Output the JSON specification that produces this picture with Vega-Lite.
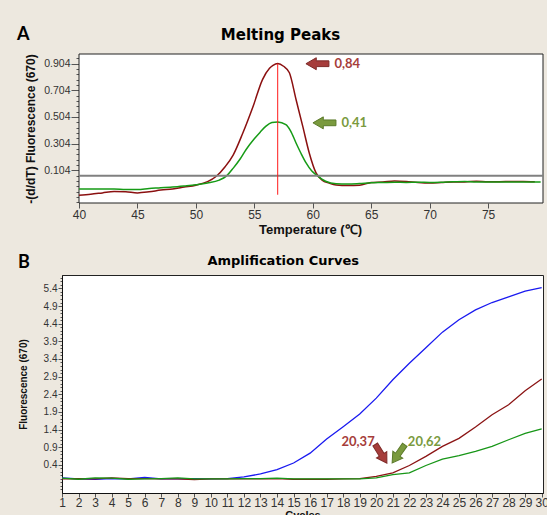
{
  "$schema": "https://vega.github.io/schema/vega-lite/v6.json",
  "background": "#EDE8DF",
  "padding": {"left": 17, "top": 26, "right": 0, "bottom": 0},
  "spacing": 17,
  "resolve": {"scale": {"color": "independent", "fill": "independent", "stroke": "independent"}},
  "config": {
    "view": {"fill": "white", "stroke": "#222", "strokeWidth": 1},
    "axis": {
      "labelFont": "Liberation Sans", "labelColor": "#333", "titleFont": "Liberation Sans",
      "titleFontWeight": "bold", "titleColor": "#111", "grid": false, "domainColor": "#111",
      "tickColor": "#555", "labelOverlap": false, "labelFlush": false
    }
  },
  "datasets": {
    "melt": [
      {"sample":"S1","temp":40,"value":-0.084},{"sample":"S1","temp":41,"value":-0.076},{"sample":"S1","temp":42,"value":-0.066},
      {"sample":"S1","temp":43,"value":-0.056},{"sample":"S1","temp":44,"value":-0.058},{"sample":"S1","temp":45,"value":-0.066},
      {"sample":"S1","temp":46,"value":-0.058},{"sample":"S1","temp":47,"value":-0.045},{"sample":"S1","temp":48,"value":-0.036},
      {"sample":"S1","temp":49,"value":-0.022},{"sample":"S1","temp":50,"value":-0.008},{"sample":"S1","temp":51,"value":0.018},
      {"sample":"S1","temp":51.75,"value":0.059},{"sample":"S1","temp":52.5,"value":0.13},{"sample":"S1","temp":53.2,"value":0.22},
      {"sample":"S1","temp":54,"value":0.38},{"sample":"S1","temp":54.9,"value":0.585},{"sample":"S1","temp":55.7,"value":0.785},
      {"sample":"S1","temp":56.3,"value":0.87},{"sample":"S1","temp":56.6,"value":0.892},{"sample":"S1","temp":57,"value":0.905},
      {"sample":"S1","temp":57.5,"value":0.885},{"sample":"S1","temp":58,"value":0.836},{"sample":"S1","temp":58.57,"value":0.635},
      {"sample":"S1","temp":59.14,"value":0.435},{"sample":"S1","temp":59.7,"value":0.234},{"sample":"S1","temp":60.28,"value":0.084},
      {"sample":"S1","temp":60.8,"value":0.03},{"sample":"S1","temp":61.4,"value":0.008},{"sample":"S1","temp":62,"value":-0.006},
      {"sample":"S1","temp":63,"value":-0.01},{"sample":"S1","temp":64,"value":-0.008},{"sample":"S1","temp":65,"value":0.012},
      {"sample":"S1","temp":66,"value":0.016},{"sample":"S1","temp":67,"value":0.024},{"sample":"S1","temp":68,"value":0.02},
      {"sample":"S1","temp":69,"value":0.012},{"sample":"S1","temp":70,"value":0.008},{"sample":"S1","temp":71,"value":0.012},
      {"sample":"S1","temp":72,"value":0.016},{"sample":"S1","temp":73,"value":0.016},{"sample":"S1","temp":74,"value":0.022},
      {"sample":"S1","temp":75,"value":0.018},{"sample":"S1","temp":76,"value":0.018},{"sample":"S1","temp":77,"value":0.02},
      {"sample":"S1","temp":78,"value":0.02},{"sample":"S1","temp":79,"value":0.018},
      {"sample":"S2","temp":40,"value":-0.037},{"sample":"S2","temp":41,"value":-0.037},{"sample":"S2","temp":42,"value":-0.037},
      {"sample":"S2","temp":43,"value":-0.037},{"sample":"S2","temp":44,"value":-0.04},{"sample":"S2","temp":45,"value":-0.04},
      {"sample":"S2","temp":46,"value":-0.033},{"sample":"S2","temp":47,"value":-0.028},{"sample":"S2","temp":48,"value":-0.022},
      {"sample":"S2","temp":49,"value":-0.014},{"sample":"S2","temp":50,"value":-0.005},{"sample":"S2","temp":51,"value":0.008},
      {"sample":"S2","temp":52,"value":0.03},{"sample":"S2","temp":52.6,"value":0.06},{"sample":"S2","temp":53.2,"value":0.12},
      {"sample":"S2","temp":53.8,"value":0.19},{"sample":"S2","temp":54.3,"value":0.26},{"sample":"S2","temp":55,"value":0.34},
      {"sample":"S2","temp":55.5,"value":0.39},{"sample":"S2","temp":56,"value":0.435},{"sample":"S2","temp":56.5,"value":0.462},
      {"sample":"S2","temp":57,"value":0.467},{"sample":"S2","temp":57.7,"value":0.447},{"sample":"S2","temp":58.1,"value":0.4},
      {"sample":"S2","temp":58.57,"value":0.309},{"sample":"S2","temp":59,"value":0.23},{"sample":"S2","temp":59.43,"value":0.159},
      {"sample":"S2","temp":59.9,"value":0.1},{"sample":"S2","temp":60.28,"value":0.071},{"sample":"S2","temp":61.1,"value":0.021},
      {"sample":"S2","temp":62,"value":0.002},{"sample":"S2","temp":63,"value":0.0},{"sample":"S2","temp":64,"value":0.004},
      {"sample":"S2","temp":65,"value":0.01},{"sample":"S2","temp":66,"value":0.012},{"sample":"S2","temp":67,"value":0.014},
      {"sample":"S2","temp":68,"value":0.012},{"sample":"S2","temp":69,"value":0.014},{"sample":"S2","temp":70,"value":0.012},
      {"sample":"S2","temp":71,"value":0.014},{"sample":"S2","temp":72,"value":0.018},{"sample":"S2","temp":73,"value":0.02},
      {"sample":"S2","temp":74,"value":0.016},{"sample":"S2","temp":75,"value":0.016},{"sample":"S2","temp":76,"value":0.016},
      {"sample":"S2","temp":77,"value":0.016},{"sample":"S2","temp":78,"value":0.016},{"sample":"S2","temp":79.5,"value":0.016}
    ],
    "peaks": [
      {"sample":"S1","temp":60.4,"value":0.904,"label":"0,84"},
      {"sample":"S2","temp":61.0,"value":0.46,"label":"0,41"}
    ],
    "amp": [
      {"sample":"Control","cycle":1,"value":0.03},{"sample":"Control","cycle":2,"value":0.0},{"sample":"Control","cycle":3,"value":-0.01},
      {"sample":"Control","cycle":4,"value":0.01},{"sample":"Control","cycle":5,"value":0.0},{"sample":"Control","cycle":6,"value":0.04},
      {"sample":"Control","cycle":7,"value":0.0},{"sample":"Control","cycle":8,"value":0.0},{"sample":"Control","cycle":9,"value":0.01},
      {"sample":"Control","cycle":10,"value":0.0},{"sample":"Control","cycle":11,"value":0.01},{"sample":"Control","cycle":12,"value":0.06},
      {"sample":"Control","cycle":13,"value":0.14},{"sample":"Control","cycle":14,"value":0.26},{"sample":"Control","cycle":15,"value":0.45},
      {"sample":"Control","cycle":16,"value":0.73},{"sample":"Control","cycle":17,"value":1.13},{"sample":"Control","cycle":18,"value":1.48},
      {"sample":"Control","cycle":19,"value":1.84},{"sample":"Control","cycle":20,"value":2.29},{"sample":"Control","cycle":21,"value":2.81},
      {"sample":"Control","cycle":22,"value":3.28},{"sample":"Control","cycle":23,"value":3.72},{"sample":"Control","cycle":24,"value":4.16},
      {"sample":"Control","cycle":25,"value":4.51},{"sample":"Control","cycle":26,"value":4.79},{"sample":"Control","cycle":27,"value":5.0},
      {"sample":"Control","cycle":28,"value":5.16},{"sample":"Control","cycle":29,"value":5.32},{"sample":"Control","cycle":30,"value":5.42},
      {"sample":"S1","cycle":1,"value":0.0},{"sample":"S1","cycle":2,"value":0.01},{"sample":"S1","cycle":3,"value":0.0},
      {"sample":"S1","cycle":4,"value":0.03},{"sample":"S1","cycle":5,"value":0.01},{"sample":"S1","cycle":6,"value":0.01},
      {"sample":"S1","cycle":7,"value":0.0},{"sample":"S1","cycle":8,"value":0.0},{"sample":"S1","cycle":9,"value":-0.02},
      {"sample":"S1","cycle":10,"value":0.0},{"sample":"S1","cycle":11,"value":0.0},{"sample":"S1","cycle":12,"value":0.0},
      {"sample":"S1","cycle":13,"value":0.0},{"sample":"S1","cycle":14,"value":0.01},{"sample":"S1","cycle":15,"value":-0.01},
      {"sample":"S1","cycle":16,"value":-0.01},{"sample":"S1","cycle":17,"value":-0.01},{"sample":"S1","cycle":18,"value":0.0},
      {"sample":"S1","cycle":19,"value":0.01},{"sample":"S1","cycle":20,"value":0.07},{"sample":"S1","cycle":21,"value":0.17},
      {"sample":"S1","cycle":22,"value":0.38},{"sample":"S1","cycle":23,"value":0.64},{"sample":"S1","cycle":24,"value":0.92},
      {"sample":"S1","cycle":25,"value":1.15},{"sample":"S1","cycle":26,"value":1.47},{"sample":"S1","cycle":27,"value":1.82},
      {"sample":"S1","cycle":28,"value":2.1},{"sample":"S1","cycle":29,"value":2.5},{"sample":"S1","cycle":30,"value":2.83},
      {"sample":"S2","cycle":1,"value":0.02},{"sample":"S2","cycle":2,"value":-0.01},{"sample":"S2","cycle":3,"value":0.03},
      {"sample":"S2","cycle":4,"value":0.02},{"sample":"S2","cycle":5,"value":-0.01},{"sample":"S2","cycle":6,"value":0.0},
      {"sample":"S2","cycle":7,"value":0.01},{"sample":"S2","cycle":8,"value":0.03},{"sample":"S2","cycle":9,"value":0.0},
      {"sample":"S2","cycle":10,"value":0.0},{"sample":"S2","cycle":11,"value":0.0},{"sample":"S2","cycle":12,"value":0.01},
      {"sample":"S2","cycle":13,"value":0.01},{"sample":"S2","cycle":14,"value":0.02},{"sample":"S2","cycle":15,"value":0.0},
      {"sample":"S2","cycle":16,"value":0.0},{"sample":"S2","cycle":17,"value":0.0},{"sample":"S2","cycle":18,"value":0.0},
      {"sample":"S2","cycle":19,"value":0.0},{"sample":"S2","cycle":20,"value":0.03},{"sample":"S2","cycle":21,"value":0.12},
      {"sample":"S2","cycle":22,"value":0.17},{"sample":"S2","cycle":23,"value":0.38},{"sample":"S2","cycle":24,"value":0.56},
      {"sample":"S2","cycle":25,"value":0.66},{"sample":"S2","cycle":26,"value":0.78},{"sample":"S2","cycle":27,"value":0.92},
      {"sample":"S2","cycle":28,"value":1.11},{"sample":"S2","cycle":29,"value":1.29},{"sample":"S2","cycle":30,"value":1.42}
    ],
    "ct": [
      {"sample":"S1","cycle":20.29,"value":0.71,"label":"20,37"},
      {"sample":"S2","cycle":21.34,"value":0.71,"label":"20,62"}
    ]
  },
  "vconcat": [
    {
      "width": 481,
      "height": 149,
      "view": {"fill": null, "stroke": null},
      "title": {"text": "Melting Peaks", "font": "DejaVu Sans", "fontSize": 15, "fontWeight": "bold", "color": "#000", "anchor": "middle", "frame": "bounds", "offset": -17},
      "layer": [
        {
          "data": {"values": [{}]},
          "mark": {"type": "rect", "fill": "white", "stroke": "#222", "strokeWidth": 1},
          "encoding": {"x": {"datum": 40, "type": "quantitative"}, "x2": {"datum": 79.7}, "y": {"datum": -0.142, "type": "quantitative"}, "y2": {"datum": 0.977}}
        },
        {
          "data": {"name": "melt"},
          "mark": {"type": "line", "interpolate": "monotone", "strokeWidth": 1.5},
          "encoding": {
            "x": {"field": "temp", "type": "quantitative", "scale": {"domain": [38.545, 79.7], "nice": false, "zero": false},
                  "axis": {"values": [40,45,50,55,60,65,70,75], "format": "d", "domain": false, "title": "Temperature (℃)", "titleX": 248, "labelFontSize": 12, "titleFontSize": 13, "tickSize": 5, "labelPadding": 1, "titlePadding": 3, "labelOverlap": false, "tickCount": 40}},
            "y": {"field": "value", "type": "quantitative", "scale": {"domain": [-0.142, 0.977], "nice": false, "zero": false},
                  "axis": {"values": [-0.136,-0.096,-0.056,-0.016,0.024,0.064,0.104,0.144,0.184,0.224,0.264,0.304,0.344,0.384,0.424,0.464,0.504,0.544,0.584,0.624,0.664,0.704,0.744,0.784,0.824,0.864,0.904,0.944],
                           "labelExpr": "datum.value > 0.1 && abs((datum.value-0.104)/0.2 - round((datum.value-0.104)/0.2)) < 0.01 ? format(datum.value, '.3f') : ''",
                           "tickSize": {"condition": {"test": "datum.value > 0.1 && abs((datum.value-0.104)/0.2 - round((datum.value-0.104)/0.2)) < 0.01", "value": 8}, "value": 3},
                           "offset": -17, "tickCount": 100,
                           "labelPadding": 1, "labelOverlap": false,
                           "title": "-(d/dT) Fluorescence (670)", "titleFontSize": 12, "labelFontSize": 10.5, "titlePadding": 6}},
            "color": {"field": "sample", "type": "nominal", "scale": {"domain": ["S1", "S2"], "range": ["#8B1010", "#169B16"]}, "legend": null}
          }
        },
        {
          "data": {"values": [{"threshold": 0.063}]},
          "mark": {"type": "rule", "color": "#808080", "strokeWidth": 2},
          "encoding": {"x": {"datum": 40, "type": "quantitative"}, "x2": {"datum": 79.7}, "y": {"field": "threshold", "type": "quantitative"}}
        },
        {
          "data": {"values": [{"tm": 57, "lo": -0.08, "hi": 0.904}]},
          "mark": {"type": "rule", "color": "#FF1A1A", "strokeWidth": 1},
          "encoding": {"x": {"field": "tm", "type": "quantitative"}, "y": {"field": "lo", "type": "quantitative"}, "y2": {"field": "hi"}}
        },
        {
          "data": {"name": "peaks"},
          "mark": {"type": "point", "shape": "M-1,-0.25L0.1,-0.25L0.1,-0.52L1,0L0.1,0.52L0.1,0.25L-1,0.25Z", "angle": 180, "size": 529, "filled": true, "opacity": 1, "strokeWidth": 1},
          "encoding": {
            "x": {"field": "temp", "type": "quantitative"},
            "y": {"field": "value", "type": "quantitative"},
            "fill": {"field": "sample", "type": "nominal", "scale": {"domain": ["S1", "S2"], "range": ["#A63D3B", "#7A9A3E"]}, "legend": null},
            "stroke": {"field": "sample", "type": "nominal", "scale": {"domain": ["S1", "S2"], "range": ["#7E2A28", "#5B7A2A"]}, "legend": null}
          }
        },
        {
          "data": {"name": "peaks"},
          "mark": {"type": "text", "font": "Lato", "fontSize": 13, "fontWeight": "bold", "align": "left", "baseline": "middle", "dx": 17},
          "encoding": {
            "x": {"field": "temp", "type": "quantitative"},
            "y": {"field": "value", "type": "quantitative"},
            "text": {"field": "label"},
            "fill": {"field": "sample", "type": "nominal", "legend": null}
          }
        },
        {
          "data": {"values": [{"panel": "A"}]},
          "mark": {"type": "text", "font": "Lato", "fontSize": 18, "fontWeight": "bold", "align": "left", "baseline": "alphabetic", "color": "#000"},
          "encoding": {"x": {"datum": 34.7}, "y": {"datum": 1.082}, "text": {"field": "panel"}}
        }
      ]
    },
    {
      "width": 481,
      "height": 218,
      "title": {"text": "Amplification Curves", "font": "DejaVu Sans", "fontSize": 13, "fontWeight": "bold", "color": "#000", "anchor": "middle", "frame": "bounds", "offset": -14},
      "layer": [
        {
          "data": {"name": "amp"},
          "mark": {"type": "line", "strokeWidth": 1.3},
          "encoding": {
            "x": {"field": "cycle", "type": "quantitative", "scale": {"domain": [1, 30.08], "nice": false, "zero": false},
                  "axis": {"values": [1,2,3,4,5,6,7,8,9,10,11,12,13,14,15,16,17,18,19,20,21,22,23,24,25,26,27,28,29,30], "format": "d", "title": "Cycles", "labelFontSize": 12, "titleFontSize": 11, "tickSize": 4, "labelPadding": 0, "titlePadding": 1, "labelOverlap": false, "tickCount": 60}},
            "y": {"field": "value", "type": "quantitative", "scale": {"domain": [-0.4, 5.78], "nice": false, "zero": false},
                  "axis": {"values": [-0.3,-0.2,-0.1,0,0.1,0.2,0.3,0.4,0.5,0.6,0.7,0.8,0.9,1,1.1,1.2,1.3,1.4,1.5,1.6,1.7,1.8,1.9,2,2.1,2.2,2.3,2.4,2.5,2.6,2.7,2.8,2.9,3,3.1,3.2,3.3,3.4,3.5,3.6,3.7,3.8,3.9,4,4.1,4.2,4.3,4.4,4.5,4.6,4.7,4.8,4.9,5,5.1,5.2,5.3,5.4,5.5,5.6,5.7],
                           "labelExpr": "datum.value > 0.35 && abs((datum.value-0.4)/0.5 - round((datum.value-0.4)/0.5)) < 0.01 ? format(datum.value, '.1f') : ''",
                           "tickSize": {"condition": {"test": "datum.value > 0.35 && abs((datum.value-0.4)/0.5 - round((datum.value-0.4)/0.5)) < 0.01", "value": 4}, "value": 2},
                           "labelPadding": 1, "labelOverlap": false, "tickCount": 100,
                           "title": "Fluorescence (670)", "titleFontSize": 10, "labelFontSize": 10, "titlePadding": 15}},
            "color": {"field": "sample", "type": "nominal", "scale": {"domain": ["Control", "S1", "S2"], "range": ["#1A1AF0", "#8B1414", "#179617"]}, "legend": null}
          }
        },
        {
          "data": {"name": "ct"},
          "transform": [{"filter": "datum.sample === 'S1'"}],
          "mark": {"type": "point", "shape": "M-1,-0.25L0.1,-0.25L0.1,-0.55L1,0L0.1,0.55L0.1,0.25L-1,0.25Z", "angle": 58, "size": 484, "filled": true, "opacity": 1, "fill": "#A63D3B", "stroke": "#7E2A28", "strokeWidth": 1},
          "encoding": {"x": {"field": "cycle", "type": "quantitative"}, "y": {"field": "value", "type": "quantitative"}}
        },
        {
          "data": {"name": "ct"},
          "transform": [{"filter": "datum.sample === 'S2'"}],
          "mark": {"type": "point", "shape": "M-1,-0.25L0.1,-0.25L0.1,-0.55L1,0L0.1,0.55L0.1,0.25L-1,0.25Z", "angle": 125, "size": 484, "filled": true, "opacity": 1, "fill": "#7A9A3E", "stroke": "#5B7A2A", "strokeWidth": 1},
          "encoding": {"x": {"field": "cycle", "type": "quantitative"}, "y": {"field": "value", "type": "quantitative"}}
        },
        {
          "data": {"name": "ct"},
          "transform": [{"filter": "datum.sample === 'S1'"}],
          "mark": {"type": "text", "font": "Lato", "fontSize": 13, "fontWeight": "bold", "align": "center", "baseline": "middle", "dx": -23, "dy": -12, "color": "#A63D3B"},
          "encoding": {"x": {"field": "cycle", "type": "quantitative"}, "y": {"field": "value", "type": "quantitative"}, "text": {"field": "label"}}
        },
        {
          "data": {"name": "ct"},
          "transform": [{"filter": "datum.sample === 'S2'"}],
          "mark": {"type": "text", "font": "Lato", "fontSize": 13, "fontWeight": "bold", "align": "center", "baseline": "middle", "dx": 26, "dy": -12, "color": "#7A9A3E"},
          "encoding": {"x": {"field": "cycle", "type": "quantitative"}, "y": {"field": "value", "type": "quantitative"}, "text": {"field": "label"}}
        },
        {
          "data": {"values": [{"panel": "B"}]},
          "mark": {"type": "text", "font": "Lato", "fontSize": 18, "fontWeight": "bold", "align": "left", "baseline": "alphabetic", "color": "#000"},
          "encoding": {"x": {"datum": -1.654}, "y": {"datum": 5.99}, "text": {"field": "panel"}}
        }
      ]
    }
  ]
}
